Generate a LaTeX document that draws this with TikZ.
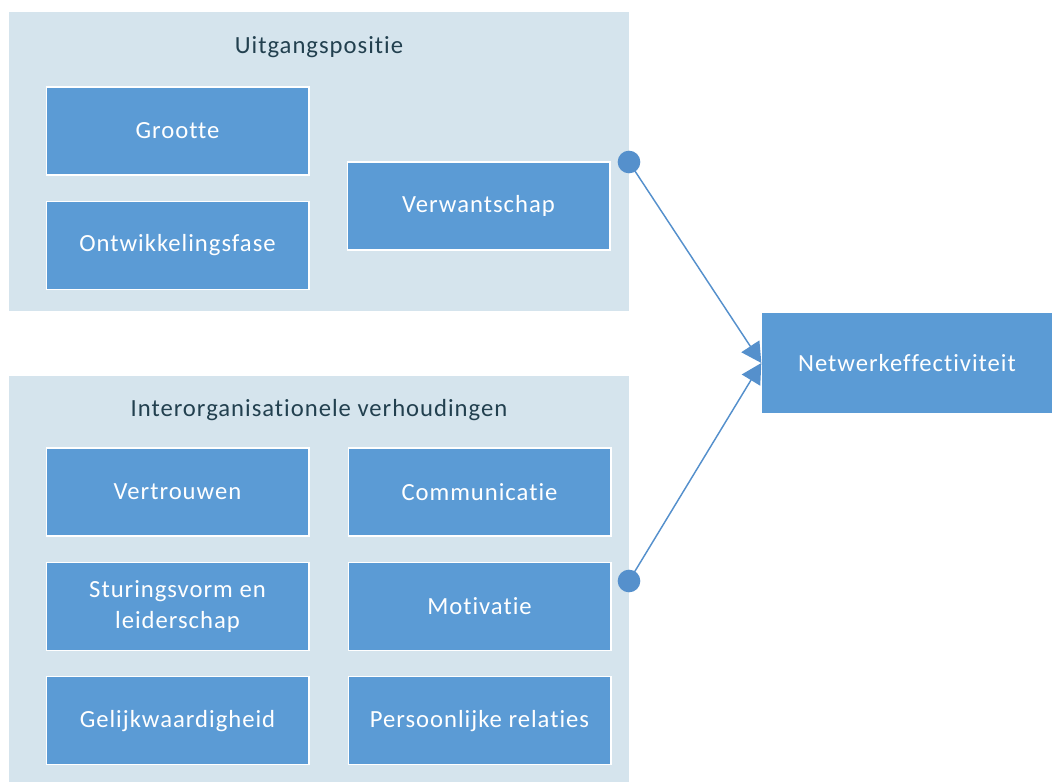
\documentclass[tikz,border=0pt]{standalone}
\usepackage{fontspec}
\setmainfont[Ligatures=NoCommon, LetterSpace=4]{Carlito}
\usetikzlibrary{arrows.meta, positioning}
\definecolor{grpfill}{HTML}{D5E4ED}
\definecolor{itemblue}{HTML}{5B9BD5}
\definecolor{linkblue}{HTML}{5590CC}
\definecolor{titlegray}{HTML}{22404F}

\begin{document}
\begin{tikzpicture}[x=0.75pt, y=-0.75pt,
  >={Triangle[length=15pt, width=16pt]},
  groupbox/.style={fill=grpfill, inner sep=0pt, minimum width=465pt},
  grouptitle/.style={font=\fontsize{18.5}{22}\selectfont, text=titlegray},
  itembox/.style={draw=white, line width=1pt, fill=itemblue, text=white,
    minimum width=197pt, minimum height=66pt, inner sep=2pt, align=center,
    font=\fontsize{18.5}{23}\selectfont},
  dot/.style={circle, fill=linkblue, inner sep=0pt, minimum size=17pt},
  arr/.style={->, line width=1.1pt, linkblue},
]

\useasboundingbox (0,0) rectangle (1052,782);

% Group backgrounds
\node[groupbox, minimum height=224.25pt] (startgrp) at (319,161.5) {};
\node[groupbox, minimum height=304.5pt] (relgrp) at (319,579) {};

% Titles
\node[grouptitle] (starttitle) at (319,47) {Uitgangspositie};
\node[grouptitle] (reltitle) at (319,410) {Interorganisationele verhoudingen};

% === Uitgangspositie ===
\node[itembox] (grootte) at (177.5,131) {Grootte};
\node[itembox, below=18.75pt of grootte] (fase) {Ontwikkelingsfase};
\node[itembox] (verwant) at (478.5,206) {Verwantschap};

% === Interorganisationele verhoudingen ===
\node[itembox] (vertrouwen) at (177.5,492) {Vertrouwen};
\node[itembox, below=18.75pt of vertrouwen] (sturing) {Sturingsvorm en\\leiderschap};
\node[itembox, below=18.75pt of sturing] (gelijk) {Gelijkwaardigheid};
\node[itembox, right=28.5pt of vertrouwen] (communicatie) {Communicatie};
\node[itembox, below=18.75pt of communicatie] (motivatie) {Motivatie};
\node[itembox, below=18.75pt of motivatie] (relaties) {Persoonlijke relaties};

% === Outcome ===
\node[itembox, draw=none, minimum width=217.5pt, minimum height=75pt]
  (netwerk) at (907,363) {Netwerkeffectiviteit};

% Connectors
\node[dot] (startdot) at (629,162) {};
\node[dot] (reldot) at (629,581) {};
\draw[arr] (startdot.center) -- (netwerk.west);
\draw[arr] (reldot.center) -- (netwerk.west);

\end{tikzpicture}
\end{document}
